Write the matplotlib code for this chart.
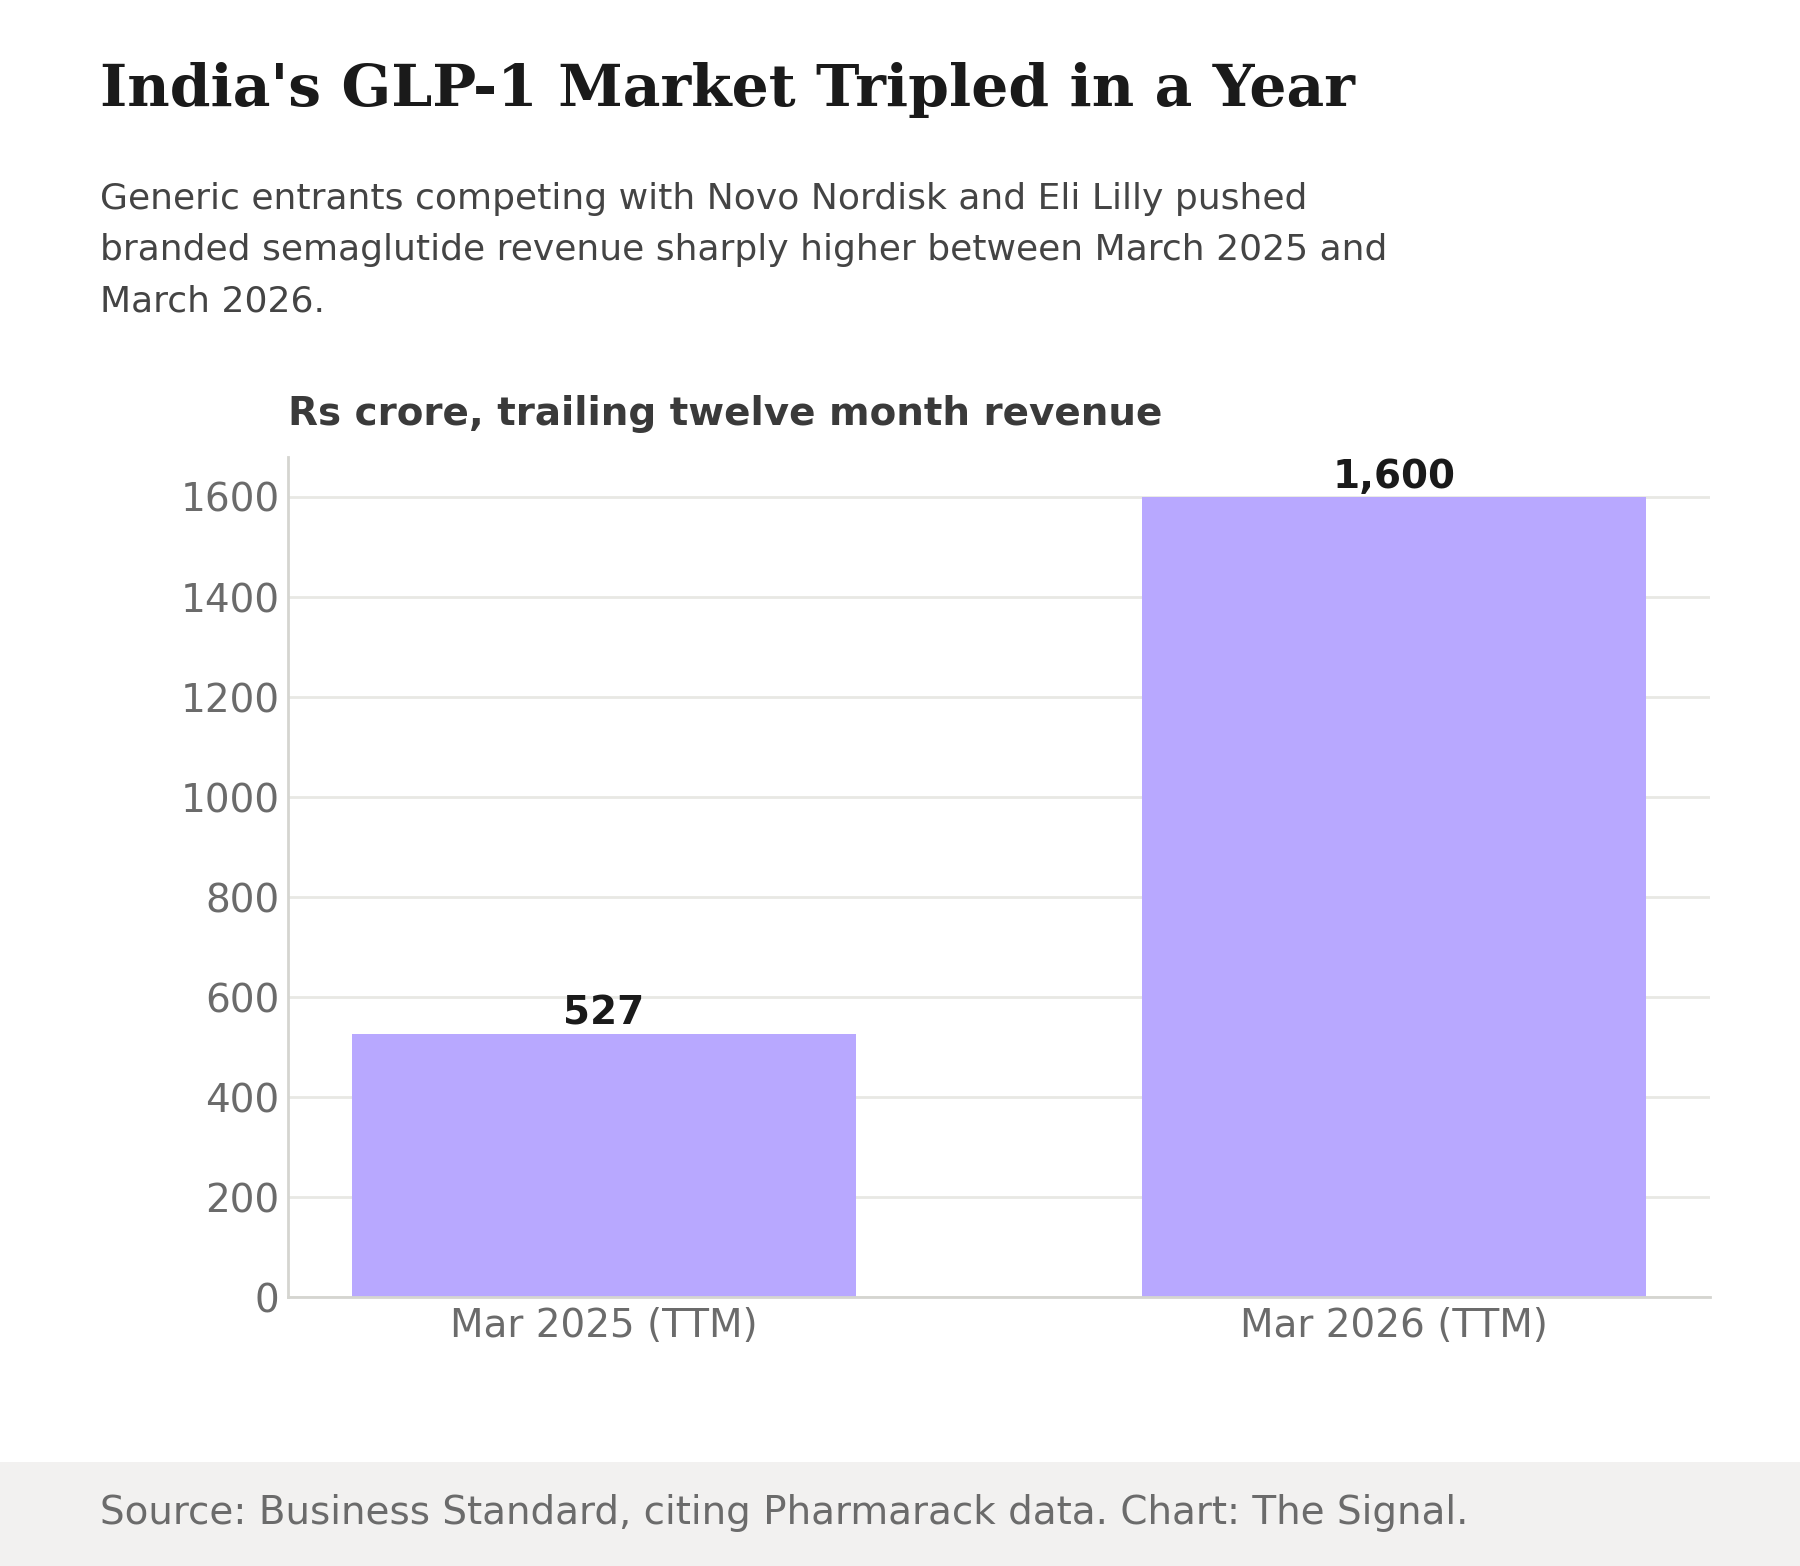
import matplotlib
matplotlib.use("Agg")
import matplotlib.pyplot as plt
from matplotlib.patches import Rectangle

# ── data ──────────────────────────────────────────────────────────────────────
periods  = ["Mar 2025 (TTM)", "Mar 2026 (TTM)"]
revenue  = [527, 1600]
val_text = ["527", "1,600"]
y_ticks  = [0, 200, 400, 600, 800, 1000, 1200, 1400, 1600]

TITLE    = "India's GLP-1 Market Tripled in a Year"
SUBTITLE = ("Generic entrants competing with Novo Nordisk and Eli Lilly pushed\n"
            "branded semaglutide revenue sharply higher between March 2025 and\n"
            "March 2026.")
Y_LABEL  = "Rs crore, trailing twelve month revenue"
SOURCE   = "Source: Business Standard, citing Pharmarack data. Chart: The Signal."

BAR_COLOR  = "#B8A8FF"
GRID_COLOR = "#E8E8E4"
SPINE_CLR  = "#D5D5D0"
TICK_CLR   = "#6B6B6B"

plt.rcParams["font.family"] = ["DejaVu Sans"]

fig = plt.figure(figsize=(9, 7.83), dpi=200)
fig.patch.set_facecolor("white")

# footer band
fig.add_artist(Rectangle((0, 0), 1, 0.0664, transform=fig.transFigure,
                         facecolor="#F2F1F0", edgecolor="none", zorder=0))
fig.text(0.0555, 0.034, SOURCE, fontsize=14, color=TICK_CLR, va="center", ha="left")

# titles
fig.text(0.0555, 0.9326, TITLE, fontsize=21, fontweight="bold", family="DejaVu Serif",
         color="#1A1A1A", va="baseline", ha="left")
fig.text(0.0555, 0.8835, SUBTITLE, fontsize=13, color="#444444", va="top", ha="left",
         linespacing=1.63)
fig.text(0.160, 0.7286, Y_LABEL, fontsize=14, fontweight="bold", color="#3A3A3A",
         va="baseline", ha="left")

ax = fig.add_axes([0.160, 0.1716, 0.790, 0.5366])
x = range(len(periods))
bars = ax.bar(x, revenue, width=0.638, color=BAR_COLOR, zorder=2)
for b, t in zip(bars, val_text):
    ax.annotate(t, (b.get_x() + b.get_width() / 2, b.get_height()),
                xytext=(0, 0.5), textcoords="offset points", ha="center", va="bottom",
                fontsize=14, fontweight="bold", color="#1A1A1A")

ax.set_xlim(-0.4, 1.4)
ax.set_ylim(0, 1680)
ax.set_xticks(list(x))
ax.set_xticklabels(periods)
ax.set_yticks(y_ticks)
ax.tick_params(axis="both", length=0, labelsize=14, labelcolor=TICK_CLR)
ax.tick_params(axis="y", pad=3)
ax.tick_params(axis="x", pad=3.5)
ax.yaxis.grid(True, color=GRID_COLOR, linewidth=1.0, zorder=0)
ax.set_axisbelow(True)
for s in ["top", "right"]:
    ax.spines[s].set_visible(False)
for s in ["left", "bottom"]:
    ax.spines[s].set_color(SPINE_CLR)
    ax.spines[s].set_linewidth(1.0)

fig.savefig("out.png", dpi=200, facecolor=fig.get_facecolor())
